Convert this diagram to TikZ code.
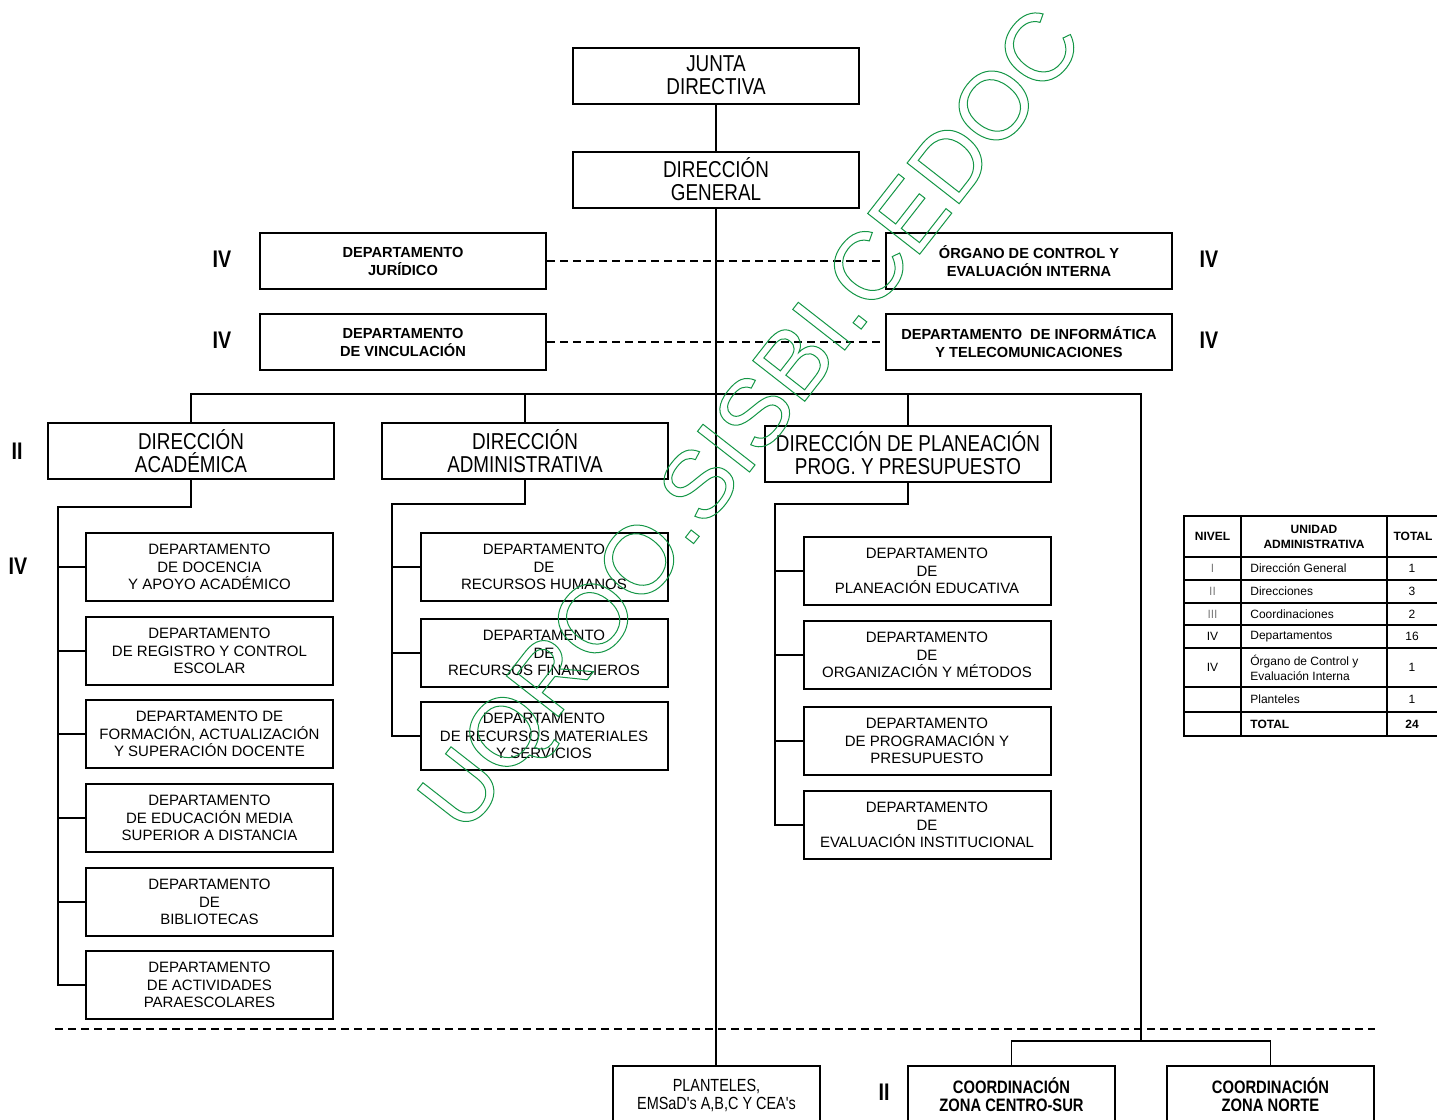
\documentclass[tikz,border=0pt]{standalone}
\usepackage{fontspec}
\setmainfont{Liberation Sans}
\newfontfamily\narrowfont[FakeStretch=0.82]{Liberation Sans}
\usetikzlibrary{positioning}
\definecolor{stampgreen}{RGB}{20,150,70}
\begin{document}
\begin{tikzpicture}[x=0.5pt, y=-0.5pt]

        \tikzstyle{headnode} = [draw, line width=1pt, minimum width=143pt, minimum height=28pt, align=center, inner sep=1pt, font=\narrowfont\fontsize{11.5}{11.5}\selectfont];
        \tikzstyle{topnode} = [draw, line width=1pt, minimum width=143pt, minimum height=28pt, align=center, inner sep=1pt, font=\bfseries\fontsize{7.3}{9}\selectfont];
        \tikzstyle{deptnode} = [draw, line width=1pt, minimum width=123.5pt, minimum height=34pt, align=center, inner sep=1pt, font=\fontsize{7.5}{8.6}\selectfont];
        \tikzstyle{basenode} = [draw, line width=1pt, minimum width=103.5pt, minimum height=29pt, anchor=north, align=center, inner sep=1pt];
        \tikzstyle{levelnode} = [font=\narrowfont\bfseries\fontsize{12}{12}\selectfont];
        \tikzstyle{cellnode} = [inner sep=0pt, font=\fontsize{6}{7.5}\selectfont];
        \tikzstyle{line} = [line width=0.9pt];
        \tikzstyle{dashline} = [line width=0.9pt, dash pattern=on 4pt off 2.5pt];

        \clip (0,0) rectangle (1437,1120);

        % Top - Junta y Direccion
        \node[headnode] (JD) at (716,75.5) {JUNTA\\DIRECTIVA};
        \node[headnode] (DG) at (716,179.5) {DIRECCIÓN\\GENERAL};
        \draw[line] (JD) -- (DG);

        \node[topnode] (DJ) at (403,261) {DEPARTAMENTO\\JURÍDICO};
        \node[topnode] (OC) at (1029,261) {ÓRGANO DE CONTROL Y\\EVALUACIÓN INTERNA};
        \node[topnode] (DV) at (403,342) {DEPARTAMENTO\\DE VINCULACIÓN};
        \node[topnode] (DI) at (1029,342) {DEPARTAMENTO\ \ DE INFORMÁTICA\\Y TELECOMUNICACIONES};
        \draw[dashline] (DJ) -- (OC);
        \draw[dashline] (DV) -- (DI);

        \node[levelnode] (LJ) at (222,259) {IV};
        \node[levelnode] (LV) at (222,340) {IV};
        \node[levelnode] (LO) at (1209,259) {IV};
        \node[levelnode] (LI) at (1209,340) {IV};
        % Top - Junta y Direccion

        % Middle - Direcciones
        \node[headnode] (DA) at (191,451) {DIRECCIÓN\\ACADÉMICA};
        \node[headnode] (DM) at (525,451) {DIRECCIÓN\\ADMINISTRATIVA};
        \node[headnode] (DP) at (908,453.5) {DIRECCIÓN DE PLANEACIÓN\\PROG. Y PRESUPUESTO};
        \node[levelnode] (LA) at (17,451) {II};
        \node[levelnode] (LD) at (18,566) {IV};

        \coordinate (B1) at (1141,394);
        \coordinate (B2) at (1141,1041);
        \draw[line] (DA.north) |- (B1) -- (B2);
        \draw[line] (DM.north) -- (DM.north |- B1);
        \draw[line] (DP.north) -- (DP.north |- B1);
        % Middle - Direcciones

        % Left - Academica
        \node[deptnode] (A1) at (209.5,567) {DEPARTAMENTO\\DE DOCENCIA\\Y APOYO ACADÉMICO};
        \node[deptnode] (A2) at (209.5,651) {DEPARTAMENTO\\DE REGISTRO Y CONTROL\\ESCOLAR};
        \node[deptnode] (A3) at (209.5,734) {DEPARTAMENTO DE\\FORMACIÓN, ACTUALIZACIÓN\\Y SUPERACIÓN DOCENTE};
        \node[deptnode] (A4) at (209.5,818) {DEPARTAMENTO\\DE EDUCACIÓN MEDIA\\SUPERIOR A DISTANCIA};
        \node[deptnode] (A5) at (209.5,902) {DEPARTAMENTO\\DE\\BIBLIOTECAS};
        \node[deptnode] (A6) at (209.5,985) {DEPARTAMENTO\\DE ACTIVIDADES\\PARAESCOLARES};

        \coordinate (AB) at (58,507);
        \draw[line] (DA.south) |- (AB) |- (A6.west);
        \draw[line] (AB |- A1.west) -- (A1.west);
        \draw[line] (AB |- A2.west) -- (A2.west);
        \draw[line] (AB |- A3.west) -- (A3.west);
        \draw[line] (AB |- A4.west) -- (A4.west);
        \draw[line] (AB |- A5.west) -- (A5.west);
        % Left - Academica

        % Center - Administrativa
        \node[deptnode] (M1) at (544,567) {DEPARTAMENTO\\DE\\RECURSOS HUMANOS};
        \node[deptnode] (M2) at (544,653) {DEPARTAMENTO\\DE\\RECURSOS FINANCIEROS};
        \node[deptnode] (M3) at (544,736) {DEPARTAMENTO\\DE RECURSOS MATERIALES\\Y SERVICIOS};

        \coordinate (MB) at (392,504);
        \draw[line] (DM.south) |- (MB) |- (M3.west);
        \draw[line] (MB |- M1.west) -- (M1.west);
        \draw[line] (MB |- M2.west) -- (M2.west);
        % Center - Administrativa

        % Right - Planeacion
        \node[deptnode] (P1) at (927,571) {DEPARTAMENTO\\DE\\PLANEACIÓN EDUCATIVA};
        \node[deptnode] (P2) at (927,655) {DEPARTAMENTO\\DE\\ORGANIZACIÓN Y MÉTODOS};
        \node[deptnode] (P3) at (927,741) {DEPARTAMENTO\\DE PROGRAMACIÓN Y\\PRESUPUESTO};
        \node[deptnode] (P4) at (927,825) {DEPARTAMENTO\\DE\\EVALUACIÓN INSTITUCIONAL};

        \coordinate (PB) at (775,504);
        \draw[line] (DP.south) |- (PB) |- (P4.west);
        \draw[line] (PB |- P1.west) -- (P1.west);
        \draw[line] (PB |- P2.west) -- (P2.west);
        \draw[line] (PB |- P3.west) -- (P3.west);
        % Right - Planeacion

        % Bottom - Planteles y Coordinaciones
        \coordinate (SL) at (55,1029);
        \coordinate (SR) at (1375,1029);
        \draw[dashline] (SL) -- (SR);

        \node[basenode, font=\narrowfont\fontsize{8.8}{9}\selectfont] (PL) at (716.5,1065) {PLANTELES,\\EMSaD's A,B,C Y CEA's};
        \node[basenode, font=\narrowfont\bfseries\fontsize{9}{9}\selectfont] (CS) at (1011.5,1065) {COORDINACIÓN\\ZONA CENTRO-SUR};
        \node[basenode, font=\narrowfont\bfseries\fontsize{9}{9}\selectfont] (CN) at (1270.5,1065) {COORDINACIÓN\\ZONA NORTE};
        \node[levelnode] (LC) at (884,1092) {II};

        \draw[line] (DG.south) -- (DG.south |- PL.north);
        \draw[line] (CS.north) |- (B2) -| (CN.north);
        % Bottom - Planteles y Coordinaciones

        % Table - Niveles
        \draw[line] (1184,516) rectangle (1450,736);
        \draw[line] (1241,516) -- (1241,736);
        \draw[line] (1387,516) -- (1387,736);
        \draw[line] (1184,557) -- (1450,557);
        \draw[line] (1184,580) -- (1450,580);
        \draw[line] (1184,603) -- (1450,603);
        \draw[line] (1184,625) -- (1450,625);
        \draw[line] (1184,648) -- (1450,648);
        \draw[line] (1184,687) -- (1450,687);
        \draw[line] (1184,712) -- (1450,712);

        \node[cellnode, font=\bfseries\fontsize{6}{7.5}\selectfont] (TN) at (1212.5,536.5) {NIVEL};
        \node[cellnode, font=\bfseries\fontsize{6}{7.5}\selectfont, align=center] (TU) at (1314,536.5) {UNIDAD\\ADMINISTRATIVA};
        \node[cellnode, font=\bfseries\fontsize{6}{7.5}\selectfont] (TT) at (1413,536.5) {TOTAL};

        \node[cellnode, text=gray] (N1) at (1212.5,568.5) {I};
        \node[cellnode, text=gray] (N2) at (1212.5,591.5) {II};
        \node[cellnode, text=gray] (N3) at (1212.5,614) {III};
        \node[cellnode] (N4) at (1212.5,636.5) {IV};
        \node[cellnode] (N5) at (1212.5,667.5) {IV};

        \node[cellnode, anchor=west] (U1) at (1250,568.5) {Dirección General};
        \node[cellnode, anchor=west] (U2) at (1250,591.5) {Direcciones};
        \node[cellnode, anchor=west] (U3) at (1250,614) {Coordinaciones};
        \node[cellnode, anchor=west] (U4) at (1250,636.5) {Departamentos};
        \node[cellnode, anchor=west, align=left] (U5) at (1250,667.5) {Órgano de Control y\\Evaluación Interna};
        \node[cellnode, anchor=west] (U6) at (1250,699.5) {Planteles};
        \node[cellnode, anchor=west, font=\bfseries\fontsize{6}{7.5}\selectfont] (U7) at (1250,724) {TOTAL};

        \node[cellnode] (C1) at (1412,568.5) {1};
        \node[cellnode] (C2) at (1412,591.5) {3};
        \node[cellnode] (C3) at (1412,614) {2};
        \node[cellnode] (C4) at (1412,636.5) {16};
        \node[cellnode] (C5) at (1412,667.5) {1};
        \node[cellnode] (C6) at (1412,699.5) {1};
        \node[cellnode, font=\bfseries\fontsize{6}{7.5}\selectfont] (C7) at (1412,724) {24};
        % Table - Niveles

        % Watermark
        \node[text=stampgreen, rotate=52, font=\fontsize{48}{48}\selectfont] (WM) at (756,424)
        {\special{pdf:literal direct 1 Tr 0.5 w}UQROO.SISBI.CEDOC\special{pdf:literal direct 0 Tr}};

\end{tikzpicture}
\end{document}
